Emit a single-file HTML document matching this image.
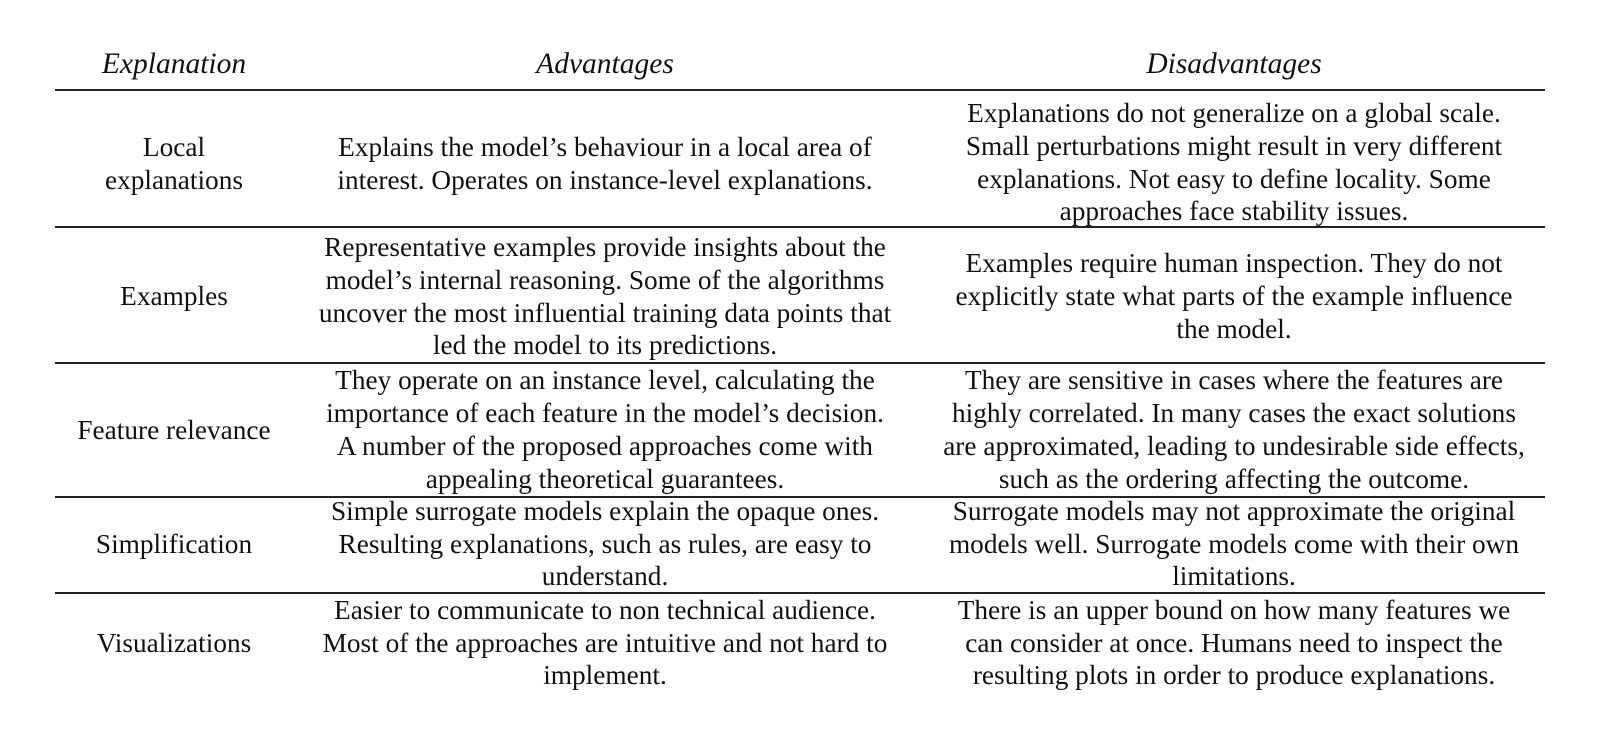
<!DOCTYPE html>
<html><head><meta charset="utf-8"><style>
body{margin:0;width:1600px;height:743px;background:#fff;position:relative;overflow:hidden;font-family:"Liberation Serif",serif;color:#111;}
.l{position:absolute;left:55px;width:1490px;height:2px;background:#222;}
.c{position:absolute;display:flex;align-items:center;justify-content:center;text-align:center;font-size:27.3px;line-height:32.8px;white-space:nowrap;}
.h{font-style:italic;font-size:29.5px;}
</style></head><body>
<div class="l" style="top:89px"></div>
<div class="l" style="top:226px;height:1.5px"></div>
<div class="l" style="top:362px;height:1.5px"></div>
<div class="l" style="top:496px;height:1.5px"></div>
<div class="l" style="top:592px;height:1.5px"></div>

<div class="c h" style="left:34px;width:280px;top:44px;height:40px">Explanation</div>
<div class="c h" style="left:285px;width:640px;top:44px;height:40px">Advantages</div>
<div class="c h" style="left:914px;width:640px;top:44px;height:40px">Disadvantages</div>

<div class="c" style="left:34px;width:280px;top:96px;height:135px">Local<br>explanations</div>
<div class="c" style="left:285px;width:640px;top:96px;height:135px">Explains the model’s behaviour in a local area of<br>interest. Operates on instance-level explanations.</div>
<div class="c" style="left:914px;width:640px;top:95px;height:135px">Explanations do not generalize on a global scale.<br>Small perturbations might result in very different<br>explanations. Not easy to define locality. Some<br>approaches face stability issues.</div>

<div class="c" style="left:34px;width:280px;top:229px;height:135px">Examples</div>
<div class="c" style="left:285px;width:640px;top:229px;height:135px">Representative examples provide insights about the<br>model’s internal reasoning. Some of the algorithms<br>uncover the most influential training data points that<br>led the model to its predictions.</div>
<div class="c" style="left:914px;width:640px;top:229px;height:135px">Examples require human inspection. They do not<br>explicitly state what parts of the example influence<br>the model.</div>

<div class="c" style="left:34px;width:280px;top:363px;height:134px">Feature relevance</div>
<div class="c" style="left:285px;width:640px;top:363px;height:134px">They operate on an instance level, calculating the<br>importance of each feature in the model’s decision.<br>A number of the proposed approaches come with<br>appealing theoretical guarantees.</div>
<div class="c" style="left:914px;width:640px;top:363px;height:134px">They are sensitive in cases where the features are<br>highly correlated. In many cases the exact solutions<br>are approximated, leading to undesirable side effects,<br>such as the ordering affecting the outcome.</div>

<div class="c" style="left:34px;width:280px;top:497px;height:94px">Simplification</div>
<div class="c" style="left:285px;width:640px;top:497px;height:94px">Simple surrogate models explain the opaque ones.<br>Resulting explanations, such as rules, are easy to<br>understand.</div>
<div class="c" style="left:914px;width:640px;top:497px;height:94px">Surrogate models may not approximate the original<br>models well. Surrogate models come with their own<br>limitations.</div>

<div class="c" style="left:34px;width:280px;top:593px;height:100px">Visualizations</div>
<div class="c" style="left:285px;width:640px;top:593px;height:100px">Easier to communicate to non technical audience.<br>Most of the approaches are intuitive and not hard to<br>implement.</div>
<div class="c" style="left:914px;width:640px;top:593px;height:100px">There is an upper bound on how many features we<br>can consider at once. Humans need to inspect the<br>resulting plots in order to produce explanations.</div>
</body></html>
